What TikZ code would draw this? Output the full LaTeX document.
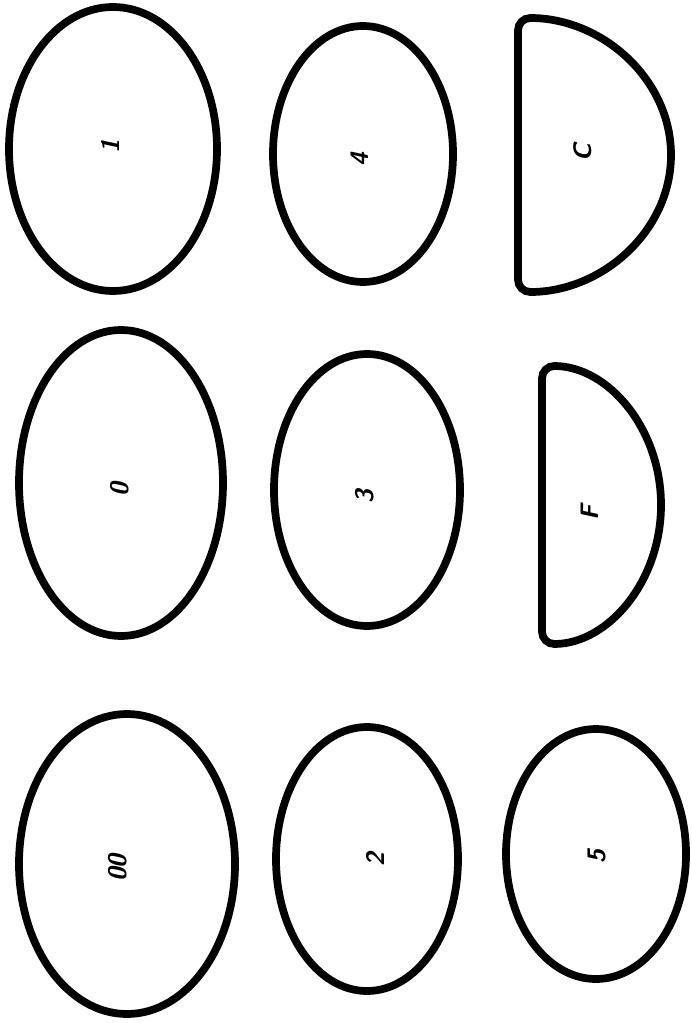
\documentclass[tikz,border=0pt]{standalone}
\usepackage{tikz}
\begin{document}
\begin{tikzpicture}[x=0.02cm,y=-0.02cm,
  outline/.style={draw=black,line width=4.4pt},
  halfdisc/.style={draw=black,line width=4.4pt,rounded corners=7pt},
  sizelabel/.style={rotate=90,inner sep=0pt,font=\Large\sffamily\bfseries\itshape}
]
\useasboundingbox (0,0) rectangle (691,1023);
% top row of the sheet (left column)
\draw[outline] (113,149) ellipse[x radius=104,y radius=142];
\draw[outline] (121,483) ellipse[x radius=102,y radius=153];
\draw[outline] (127,864) ellipse[x radius=108,y radius=150];
% middle column
\draw[outline] (363,154) ellipse[x radius=90,y radius=128];
\draw[outline] (367,490) ellipse[x radius=93,y radius=136];
\draw[outline] (367,859) ellipse[x radius=91,y radius=132];
% right column
\draw[halfdisc] (518,292) arc[start angle=90,end angle=-90,x radius=153,y radius=137] -- cycle;
\draw[halfdisc] (542,644) arc[start angle=90,end angle=-90,x radius=119,y radius=139] -- cycle;
\draw[outline] (596,854) ellipse[x radius=90,y radius=125];
% labels
\node[sizelabel] (lblone) at (110,147) {1};
\node[sizelabel] (lblzero) at (120,490) {0};
\node[sizelabel] (lbldzero) at (118,868) {00};
\node[sizelabel] (lblfour) at (360,160) {4};
\node[sizelabel] (lblthree) at (365,497) {3};
\node[sizelabel] (lbltwo) at (375,860) {2};
\node[sizelabel] (lblc) at (583,153) {C};
\node[sizelabel] (lblf) at (590,513) {F};
\node[sizelabel] (lblfive) at (597,857) {5};
\end{tikzpicture}
\end{document}
